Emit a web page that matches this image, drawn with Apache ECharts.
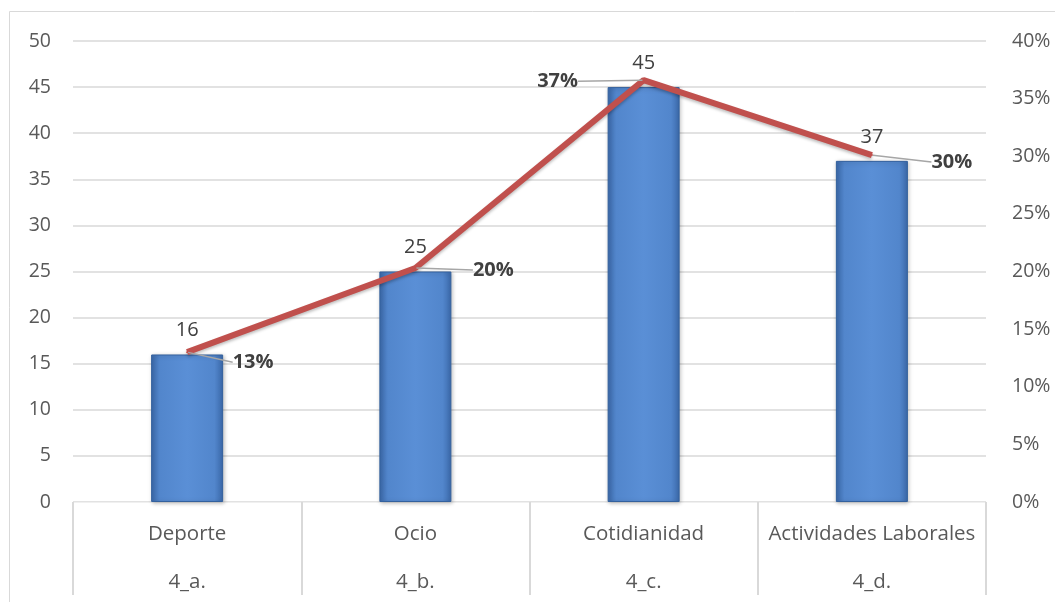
<!DOCTYPE html>
<html>
<head>
<meta charset="utf-8">
<script src="https://cdn.jsdelivr.net/npm/echarts@6/dist/echarts.min.js"></script>
<style>
  html, body { margin: 0; padding: 0; background: #fff; }
  #chart { width: 1055px; height: 602px; }
</style>
</head>
<body>
<div id="chart"></div>
<script>
// datos
const categories = ['Deporte', 'Ocio', 'Cotidianidad', 'Actividades Laborales'];
const codes = ['4_a.', '4_b.', '4_c.', '4_d.'];
const counts = [16, 25, 45, 37];
const shares = [13.0, 20.3, 36.6, 30.1];

// desplazamiento de las etiquetas de porcentaje (dx, dy)
const shareLabelShift = [[66, 10], [78, 2], [-86, 1], [80, 7]];

const font = '"Open Sans", sans-serif';
const chart = echarts.init(document.getElementById('chart'));

const option = {
  animation: false,
  textStyle: { fontFamily: font },
  grid: { left: 73, right: 69, top: 41, bottom: 100 },
  graphic: [{
    type: 'rect',
    shape: { x: 9.5, y: 11.5, width: 1060, height: 600 },
    style: { fill: 'none', stroke: '#d9d9d9', lineWidth: 1 },
    silent: true
  }],
  xAxis: [
    {
      type: 'category',
      data: categories,
      axisLine: { lineStyle: { color: '#d9d9d9', width: 1 } },
      axisTick: { show: true, length: 93, interval: 0, lineStyle: { color: '#d9d9d9', width: 2 } },
      axisLabel: { color: '#595959', fontSize: 20.5, margin: 22, interval: 0, fontFamily: font }
    },
    {
      type: 'category',
      position: 'bottom',
      offset: 46,
      data: codes,
      axisLine: { lineStyle: { color: '#f0f0f0', width: 1 } },
      axisTick: { show: false },
      axisLabel: { color: '#595959', fontSize: 20.5, margin: 24, interval: 0, fontFamily: font }
    }
  ],
  yAxis: [
    {
      type: 'value',
      min: 0, max: 50, interval: 5,
      axisLine: { show: false },
      axisTick: { show: false },
      splitLine: { lineStyle: { color: '#d9d9d9', width: 1.5 } },
      axisLabel: { color: '#595959', fontSize: 19.5, margin: 22, fontFamily: font }
    },
    {
      type: 'value',
      min: 0, max: 40, interval: 5,
      axisLine: { show: false },
      axisTick: { show: false },
      splitLine: { show: false },
      axisLabel: { color: '#595959', fontSize: 19.5, margin: 26, formatter: '{value}%', fontFamily: font }
    }
  ],
  series: [
    {
      type: 'bar',
      data: counts,
      barWidth: 72,
      itemStyle: {
        color: new echarts.graphic.LinearGradient(0, 0, 1, 0, [
          { offset: 0, color: '#3b69aa' },
          { offset: 0.12, color: '#5286cc' },
          { offset: 0.5, color: '#5a8fd6' },
          { offset: 0.88, color: '#5286cc' },
          { offset: 1, color: '#3b69aa' }
        ]),
        borderColor: '#33619e',
        borderWidth: 1,
        shadowColor: 'rgba(0,0,0,0.25)',
        shadowBlur: 4,
        shadowOffsetX: 1,
        shadowOffsetY: 1
      },
      label: {
        show: true, position: 'top', distance: 14,
        color: '#404040', fontSize: 20, fontFamily: font
      }
    },
    {
      type: 'line',
      yAxisIndex: 1,
      data: shares,
      symbol: 'circle',
      symbolSize: 2,
      itemStyle: { color: '#c0504d' },
      lineStyle: {
        color: '#c0504d', width: 6,
        shadowColor: 'rgba(0,0,0,0.25)', shadowBlur: 3, shadowOffsetY: 2
      },
      label: {
        show: true, position: 'inside',
        color: '#404040', fontSize: 20, fontWeight: 'bold', fontFamily: font,
        formatter: p => Math.round(p.value) + '%'
      },
      labelLine: { show: true, lineStyle: { color: '#a6a6a6', width: 1.5 } },
      labelLayout: p => ({ dx: shareLabelShift[p.dataIndex][0], dy: shareLabelShift[p.dataIndex][1] }),
      z: 5
    }
  ]
};

chart.setOption(option);
</script>
</body>
</html>
